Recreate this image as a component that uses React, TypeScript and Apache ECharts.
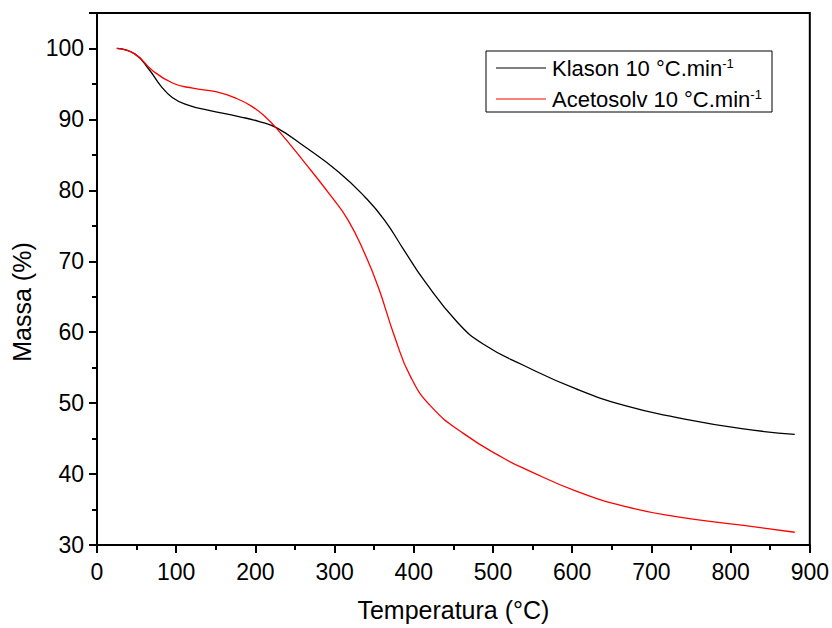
import React, { useEffect, useRef } from "react";
import * as echarts from "echarts";

const klasonT = [25, 48, 66, 80, 95, 115, 140, 179, 205, 227, 263, 305, 338, 363, 388, 413, 455, 488, 539, 605, 668, 731, 814, 881];
const klasonM = [100, 99.2, 97.0, 94.8, 93.1, 92.0, 91.3, 90.4, 89.7, 88.8, 86.1, 82.6, 79.1, 75.8, 71.5, 67.3, 61.4, 58.3, 55.3, 52.0, 49.6, 48.0, 46.4, 45.6];

const acetoT = [25, 48, 70, 96, 121, 150, 175, 196, 213, 227, 263, 296, 317, 338, 355, 376, 396, 422, 463, 514, 543, 605, 668, 731, 814, 881];
const acetoM = [100, 99.2, 96.9, 95.1, 94.4, 93.9, 93.0, 91.8, 90.3, 88.7, 83.8, 79.1, 75.8, 71.1, 66.4, 59.3, 53.7, 49.5, 45.7, 42.2, 40.6, 37.6, 35.4, 34.0, 32.8, 31.8];

const seriesNames = ["Klason 10 °C.min", "Acetosolv 10 °C.min"];
const supText = "-1";
const xTitle = "Temperatura (°C)";
const yTitle = "Massa (%)";

const FONT = "'Liberation Sans', Arial, sans-serif";

export default function App() {
  const ref = useRef<HTMLDivElement>(null);
  useEffect(() => {
    if (!ref.current) return;
    const chart = echarts.init(ref.current, undefined, { renderer: "svg" });
    const kData = klasonT.map((t, i) => [t, klasonM[i]]);
    const aData = acetoT.map((t, i) => [t, acetoM[i]]);
    const legendRich = {
      n: { fontSize: 22, fontFamily: FONT, fill: "#000", color: "#000" },
      s: { fontSize: 13, fontFamily: FONT, fill: "#000", color: "#000", verticalAlign: "top" },
    };
    chart.setOption({
      animation: false,
      backgroundColor: "#fff",
      textStyle: { fontFamily: FONT },
      grid: {
        left: 97,
        right: 17,
        top: 13,
        bottom: 83,
        show: true,
        borderColor: "#000",
        borderWidth: 2,
        backgroundColor: "transparent",
      },
      xAxis: {
        type: "value",
        min: 0,
        max: 900,
        interval: 100,
        name: xTitle,
        nameLocation: "middle",
        nameGap: 52,
        nameTextStyle: { fontSize: 25, color: "#000", fontFamily: FONT },
        axisLine: { show: true, onZero: false, lineStyle: { color: "#000", width: 2 } },
        axisTick: { show: true, inside: false, length: 8, lineStyle: { color: "#000", width: 2 } },
        minorTick: { show: true, splitNumber: 2, length: 5, lineStyle: { color: "#000", width: 2 } },
        axisLabel: { fontSize: 23, color: "#000", margin: 15, fontFamily: FONT },
        splitLine: { show: false },
      },
      yAxis: {
        type: "value",
        min: 30,
        max: 105,
        interval: 10,
        axisLine: { show: true, onZero: false, lineStyle: { color: "#000", width: 2 } },
        axisTick: { show: true, inside: false, length: 8, lineStyle: { color: "#000", width: 2 } },
        minorTick: { show: true, splitNumber: 2, length: 5, lineStyle: { color: "#000", width: 2 } },
        axisLabel: {
          fontSize: 23,
          color: "#000",
          margin: 13,
          fontFamily: FONT,
          formatter: (v: number) => (v > 100 ? "" : String(v)),
        },
        splitLine: { show: false },
      },
      series: [
        {
          name: seriesNames[0],
          type: "line",
          data: kData,
          smooth: 0.5,
          showSymbol: false,
          lineStyle: { color: "#000", width: 1.3 },
        },
        {
          name: seriesNames[1],
          type: "line",
          data: aData,
          smooth: 0.5,
          showSymbol: false,
          lineStyle: { color: "#ff0000", width: 1.3 },
        },
      ],
      graphic: [
        {
          type: "text",
          x: 22,
          y: 302,
          rotation: Math.PI / 2,
          style: {
            text: yTitle,
            fontSize: 25,
            fontFamily: FONT,
            fill: "#000",
            align: "center",
            verticalAlign: "middle",
          },
        },
        {
          type: "rect",
          shape: { x: 486, y: 51, width: 286, height: 61 },
          style: { fill: "#fff", stroke: "#000", lineWidth: 1 },
          z: 10,
        },
        {
          type: "line",
          shape: { x1: 496, y1: 68, x2: 546, y2: 68 },
          style: { stroke: "#000", lineWidth: 1 },
          z: 11,
        },
        {
          type: "line",
          shape: { x1: 496, y1: 99, x2: 546, y2: 99 },
          style: { stroke: "#ff0000", lineWidth: 1 },
          z: 11,
        },
        {
          type: "text",
          x: 552,
          y: 68,
          z: 11,
          style: {
            text: "{n|" + seriesNames[0] + "}{s|" + supText + "}",
            verticalAlign: "middle",
            rich: legendRich,
          },
        },
        {
          type: "text",
          x: 552,
          y: 99,
          z: 11,
          style: {
            text: "{n|" + seriesNames[1] + "}{s|" + supText + "}",
            verticalAlign: "middle",
            rich: legendRich,
          },
        },
      ],
    });
    return () => chart.dispose();
  }, []);
  return (
    <div
      ref={ref}
      style={{ position: "fixed", left: 0, top: 0, width: 832, height: 628, background: "#fff" }}
    />
  );
}
